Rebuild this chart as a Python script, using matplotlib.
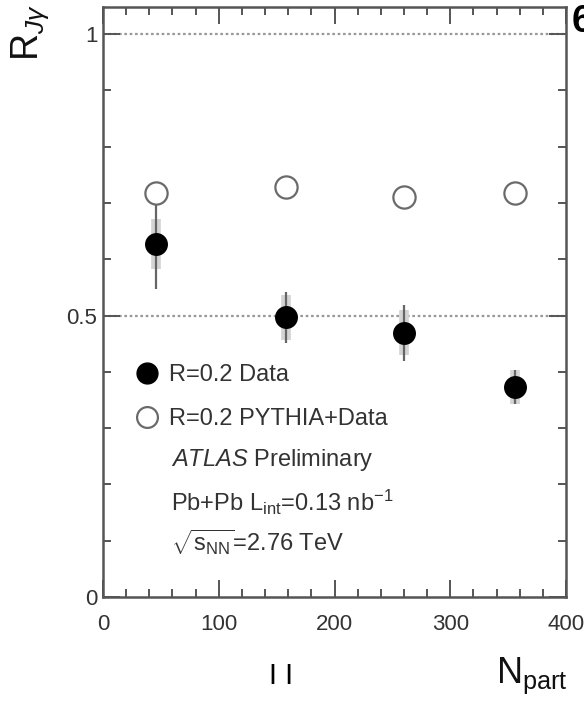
import matplotlib
matplotlib.use('Agg')
import matplotlib.pyplot as plt
from matplotlib.lines import Line2D
from matplotlib.ticker import MultipleLocator

plt.rcParams.update({
    'font.family': ['Liberation Sans', 'DejaVu Sans'],
    'mathtext.fontset': 'custom',
    'mathtext.rm': 'Liberation Sans',
    'mathtext.it': 'Liberation Sans:italic',
    'mathtext.bf': 'Liberation Sans:bold',
})

# ── data ─────────────────────────────────────────────────────────────────────
npart      = [46, 158, 260, 356]
r_data     = [0.627, 0.497, 0.469, 0.373]
r_stat     = [0.080, 0.045, 0.049, 0.030]
r_sys      = [0.045, 0.040, 0.040, 0.030]
r_pythia   = [0.718, 0.728, 0.710, 0.718]

TXT = '#333333'
AXC = '#555555'

fig = plt.figure(figsize=(5.84, 7.03), dpi=100)
ax = fig.add_axes([103 / 584, 106 / 703, 463 / 584, 590 / 703])

# reference lines at 0.5 and 1
for yref in (0.5, 1.0):
    ax.axhline(yref, color='#999999', linestyle=(0, (1.2, 1.2)),
               linewidth=1.6, zorder=1)

# systematic (grey band) then statistical (line) uncertainties
ax.errorbar(npart, r_data, yerr=r_sys, fmt='none', ecolor='#d4d4d4',
            elinewidth=7, capsize=0, zorder=2)
ax.errorbar(npart, r_data, yerr=r_stat, fmt='none', ecolor='#666666',
            elinewidth=1.6, capsize=0, zorder=3)
ax.plot(npart, r_data, 'o', color='black', markersize=15.5, zorder=4,
        linestyle='none')
ax.plot(npart, r_pythia, 'o', markerfacecolor='white', markeredgecolor='#6a6a6a',
        markeredgewidth=1.6, markersize=16, zorder=5, linestyle='none')

ax.set_xlim(0, 400)
ax.set_ylim(0, 1.048)
ax.xaxis.set_major_locator(MultipleLocator(100))
ax.xaxis.set_minor_locator(MultipleLocator(20))
ax.yaxis.set_major_locator(MultipleLocator(0.5))
ax.yaxis.set_minor_locator(MultipleLocator(0.1))
ax.tick_params(which='both', direction='in', top=True, right=True,
               color=AXC, width=1.4, labelcolor=TXT, labelsize=16)
ax.tick_params(which='major', length=12)
ax.tick_params(which='minor', length=6)
ax.tick_params(axis='x', pad=12)
ax.tick_params(axis='y', pad=4)
ax.yaxis.set_major_formatter(plt.FuncFormatter(lambda v, p: f'{v:g}'))
for s in ax.spines.values():
    s.set_color(AXC)
    s.set_linewidth(1.8)

# legend for the two point series
handles = [
    Line2D([], [], marker='o', color='black', markersize=15, linestyle='none'),
    Line2D([], [], marker='o', markerfacecolor='white', markeredgecolor='#6a6a6a',
           markeredgewidth=1.6, markersize=15, linestyle='none'),
]
leg = ax.legend(handles, ['R=0.2 Data', 'R=0.2 PYTHIA+Data'],
                loc='upper left', bbox_to_anchor=(0.046, 0.415),
                frameon=False, fontsize=17, labelspacing=0.95,
                handlelength=0.9, handletextpad=0.5, borderpad=0)
for t in leg.get_texts():
    t.set_color(TXT)

# annotation block
note_x = 0.146
ax.text(note_x, 0.233, r'$\mathit{ATLAS}$ Preliminary', transform=ax.transAxes,
        fontsize=17, color=TXT, va='center', ha='left')
ax.text(note_x, 0.160, r'Pb+Pb L$_{\mathrm{int}}$=0.13 nb$^{\mathrm{-1}}$',
        transform=ax.transAxes, fontsize=17, color=TXT, va='center', ha='left')
ax.text(note_x, 0.093, r'$\sqrt{\mathrm{s}_{\mathrm{NN}}}$=2.76 TeV',
        transform=ax.transAxes, fontsize=17, color=TXT, va='center', ha='left')

# axis titles
fig.text(30 / 584, 1 - 4 / 703, r'$\mathrm{R}_{J\gamma}$', rotation=90,
         fontsize=27, ha='center', va='top', color='#111111')
fig.text(496 / 584, 20 / 703, r'N$_{\mathrm{part}}$', fontsize=26,
         ha='left', va='baseline', color='#111111')
fig.text(281 / 584, 1 - 676 / 703, 'I I', fontsize=21, ha='center',
         va='center', color='black')
fig.text(572 / 584, 1 - 4 / 703, '6', fontsize=27, fontweight='bold',
         ha='left', va='top', color='black')

fig.savefig('out.png', dpi=100)
